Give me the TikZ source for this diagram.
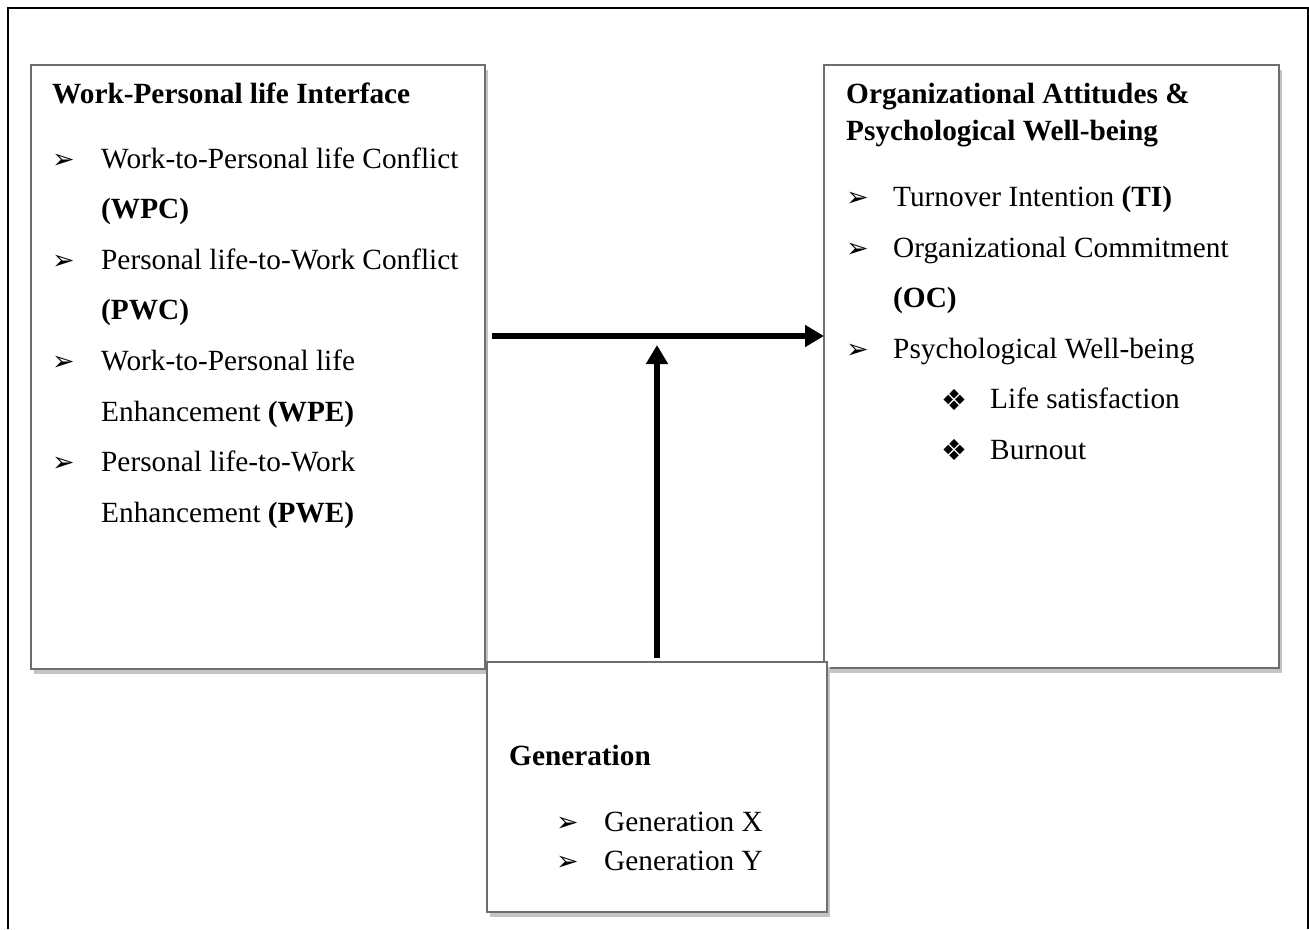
\documentclass[tikz,border=0pt]{standalone}
\usepackage{fontspec}
\setmainfont{Liberation Serif}[Ligatures={TeX,NoCommon}]
\newfontfamily\dejavu{DejaVu Sans}
\usetikzlibrary{arrows.meta,shadows}
\definecolor{boxgray}{HTML}{6E6E6E}
\definecolor{shadowgray}{HTML}{C4C4C4}
\begin{document}
\begin{tikzpicture}[x=1pt,y=-1pt,
  box/.style={draw=boxgray, line width=2pt, fill=white, rectangle, inner sep=0pt, outer sep=0pt, anchor=north west,
    drop shadow={shadow xshift=3pt, shadow yshift=-5pt, fill=shadowgray, draw=none, opacity=1}},
  txt/.style={anchor=base west, inner sep=0pt, font=\fontsize{29.3}{35}\selectfont},
  hd/.style={anchor=base west, inner sep=0pt, font=\fontsize{29.3}{35}\selectfont\bfseries},
  bul/.style={anchor=base west, inner sep=0pt, font=\dejavu\fontsize{27}{30}\selectfont},
  dia/.style={anchor=base west, inner sep=0pt, font=\dejavu\fontsize{29}{32}\selectfont},
  arr/.style={line width=6pt, -{Triangle[length=19pt,width=21pt]}}]
\useasboundingbox (0,0) rectangle (1309,929);
% outer frame
\draw[line width=2pt] (8,929) -- (8,8) -- (1308,8) -- (1308,929);
% boxes
\node[box, minimum width=454pt, minimum height=604pt] (wpl) at (31,65) {};
\node[box, minimum width=455pt, minimum height=603pt] (org) at (824,65) {};
% left box text
\node[hd] (wplh) at (52,103) {Work-Personal life Interface};
\node[bul] (b1) at (52,168) {➢};
\node[txt] (t1) at (101,168) {Work-to-Personal life Conflict};
\node[txt] (t1b) at (101,218.6) {\textbf{(WPC)}};
\node[bul] (b2) at (52,269.2) {➢};
\node[txt] (t2) at (101,269.2) {Personal life-to-Work Conflict};
\node[txt] (t2b) at (101,319.8) {\textbf{(PWC)}};
\node[bul] (b3) at (52,370.4) {➢};
\node[txt] (t3) at (101,370.4) {Work-to-Personal life};
\node[txt] (t3b) at (101,421) {Enhancement \textbf{(WPE)}};
\node[bul] (b4) at (52,471.6) {➢};
\node[txt] (t4) at (101,471.6) {Personal life-to-Work};
\node[txt] (t4b) at (101,522.2) {Enhancement \textbf{(PWE)}};
% right box text
\node[hd] (orgh1) at (846,103.3) {Organizational Attitudes \&};
\node[hd] (orgh2) at (846,140.3) {Psychological Well-being};
\node[bul] (r1) at (846,206.7) {➢};
\node[txt] (s1) at (893,206.7) {Turnover Intention \textbf{(TI)}};
\node[bul] (r2) at (846,257.2) {➢};
\node[txt] (s2) at (893,257.2) {Organizational Commitment};
\node[txt] (s2b) at (893,307.7) {\textbf{(OC)}};
\node[bul] (r3) at (846,358.2) {➢};
\node[txt] (s3) at (893,358.2) {Psychological Well-being};
\node[dia] (d1) at (941,410) {❖};
\node[txt] (u1) at (990,408.7) {Life satisfaction};
\node[dia] (d2) at (941,460.5) {❖};
\node[txt] (u2) at (990,459.2) {Burnout};
% arrows
\coordinate (hstart) at (492,336);
\draw[arr] (hstart) -- (org.west |- hstart);
% generation box
\node[box, minimum width=340pt, minimum height=250pt] (gen) at (487,662) {};
\coordinate (vtip) at (657,345);
\draw[arr] ([yshift=4pt]gen.north) -- (vtip);
\node[hd] (genh) at (509,765.7) {Generation};
\node[bul] (g1) at (556,831.7) {➢};
\node[txt] (gx) at (604,831.7) {Generation X};
\node[bul] (g2) at (556,870) {➢};
\node[txt] (gy) at (604,870) {Generation Y};
\end{tikzpicture}
\end{document}
